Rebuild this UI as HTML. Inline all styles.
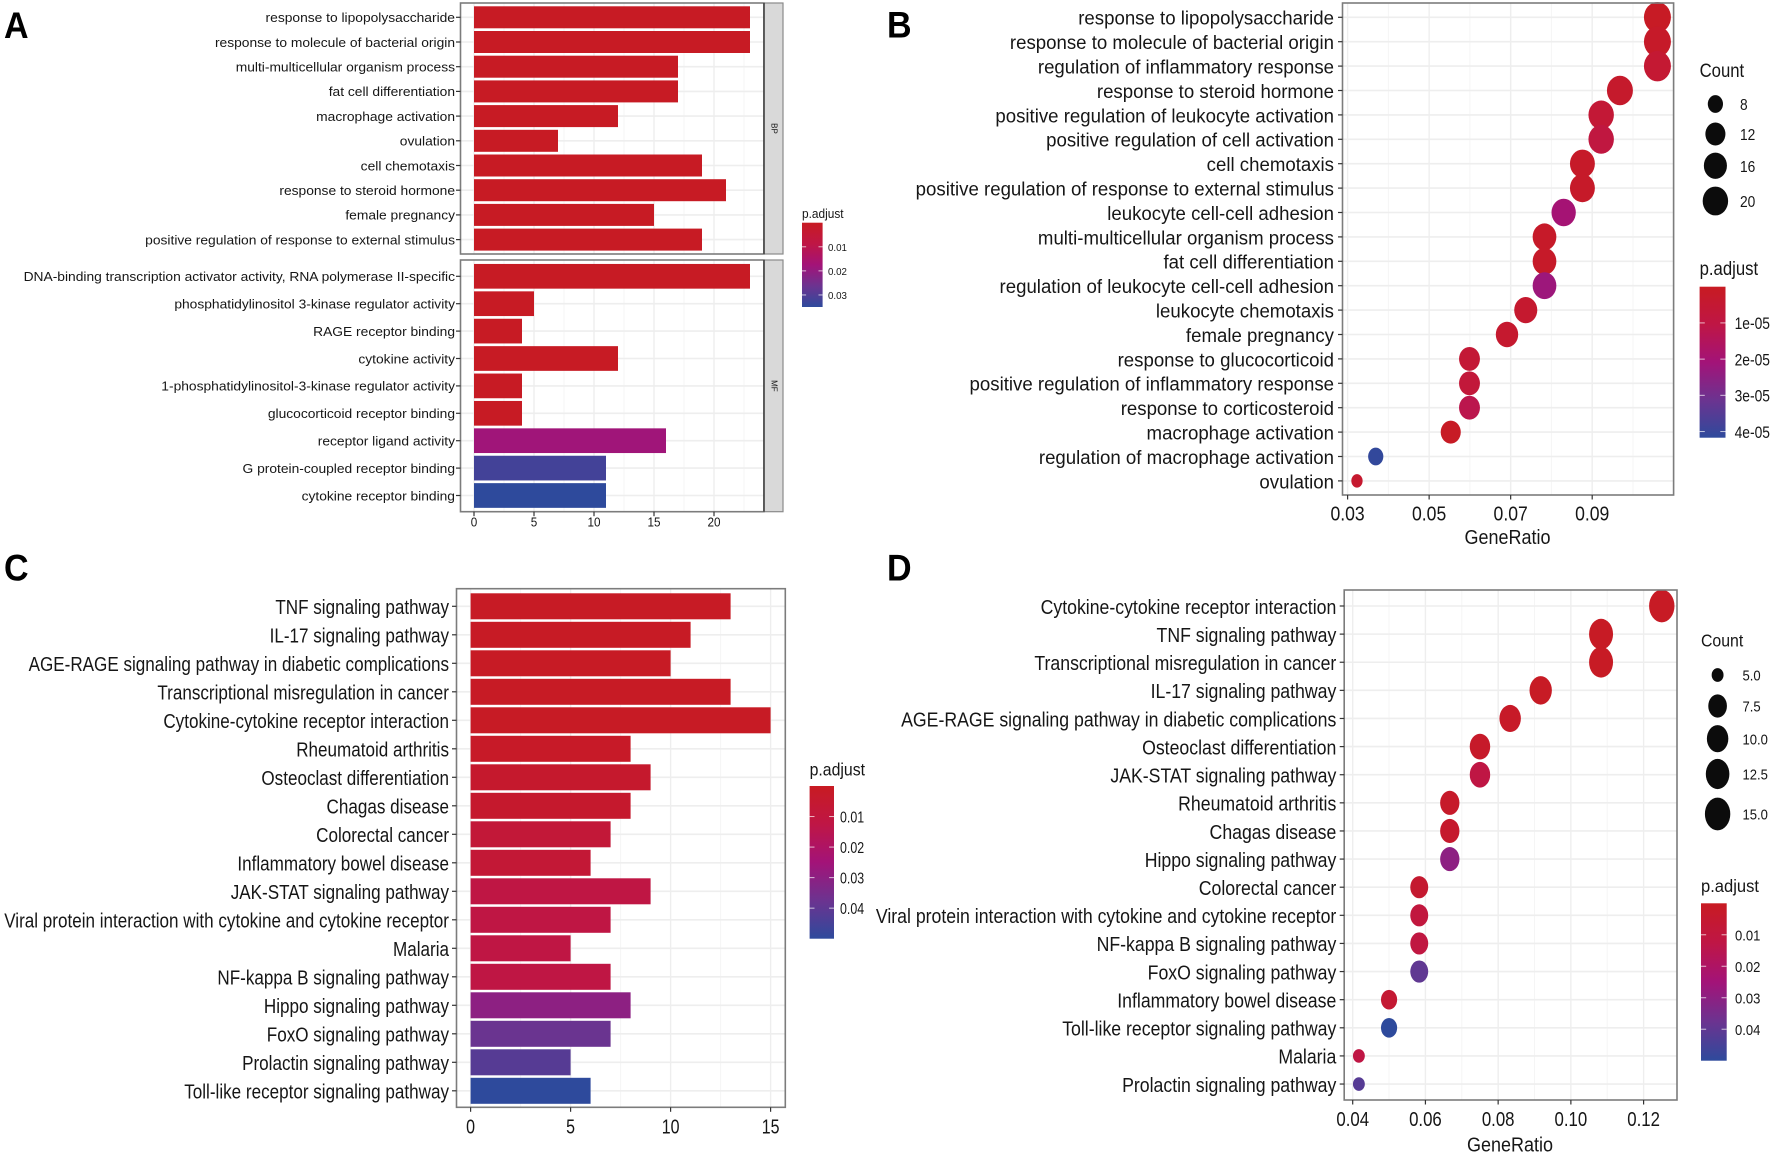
<!DOCTYPE html>
<html lang="en">
<head>
<meta charset="utf-8">
<title>GO and KEGG enrichment charts</title>
<style>
html,body{margin:0;padding:0;background:#fff;}
svg{display:block;position:absolute;left:0;top:0;filter:blur(0.35px);}
text{font-family:"Liberation Sans",Arial,sans-serif;fill:#161616;}
</style>
</head>
<body>
<svg id="figure" xmlns="http://www.w3.org/2000/svg" width="1772" height="1154" viewBox="0 0 1772 1154">
<rect width="1772" height="1154" fill="#ffffff"/>
<defs id="defs"></defs>
</svg>
<script>
// ---------- Panel A data ----------
const aBpTerms = ["response to lipopolysaccharide","response to molecule of bacterial origin","multi-multicellular organism process","fat cell differentiation","macrophage activation","ovulation","cell chemotaxis","response to steroid hormone","female pregnancy","positive regulation of response to external stimulus"];
const aBpCounts = [23,23,17,17,12,7,19,21,15,19];
const aBpPadj = [0.0005,0.0005,0.0005,0.0005,0.0005,0.0005,0.0005,0.0005,0.0005,0.0005];
const aMfTerms = ["DNA-binding transcription activator activity, RNA polymerase II-specific","phosphatidylinositol 3-kinase regulator activity","RAGE receptor binding","cytokine activity","1-phosphatidylinositol-3-kinase regulator activity","glucocorticoid receptor binding","receptor ligand activity","G protein-coupled receptor binding","cytokine receptor binding"];
const aMfCounts = [23,5,4,12,4,4,16,11,11];
const aMfPadj = [0.0005,0.0005,0.0005,0.0005,0.0005,0.0005,0.018,0.032,0.035];
const aTicks = ["0","5","10","15","20"];
const aLegendTicks = ["0.01","0.02","0.03"];

// ---------- Panel B data ----------
const bTerms = ["response to lipopolysaccharide","response to molecule of bacterial origin","regulation of inflammatory response","response to steroid hormone","positive regulation of leukocyte activation","positive regulation of cell activation","cell chemotaxis","positive regulation of response to external stimulus","leukocyte cell-cell adhesion","multi-multicellular organism process","fat cell differentiation","regulation of leukocyte cell-cell adhesion","leukocyte chemotaxis","female pregnancy","response to glucocorticoid","positive regulation of inflammatory response","response to corticosteroid","macrophage activation","regulation of macrophage activation","ovulation"];
const bRatios = [0.106,0.106,0.106,0.0968,0.0922,0.0922,0.0876,0.0876,0.083,0.0783,0.0783,0.0783,0.0737,0.0691,0.0599,0.0599,0.0599,0.0553,0.0369,0.0323];
const bCounts = [23,23,23,21,20,20,19,19,18,17,17,17,16,15,13,13,13,12,8,7];
const bPadj = [1e-6,2e-6,5e-6,3e-6,6e-6,9e-6,2e-6,2e-6,2e-5,2e-6,2e-6,2.2e-5,4e-6,4e-6,6e-6,7e-6,1.2e-5,1e-6,4.1e-5,4e-6];
const bTicks = ["0.03","0.05","0.07","0.09"];
const bSizeBreaks = [8,12,16,20];
const bSizeLabels = ["8","12","16","20"];
const bLegendTicks = ["1e-05","2e-05","3e-05","4e-05"];

// ---------- Panel C data ----------
const cTerms = ["TNF signaling pathway","IL-17 signaling pathway","AGE-RAGE signaling pathway in diabetic complications","Transcriptional misregulation in cancer","Cytokine-cytokine receptor interaction","Rheumatoid arthritis","Osteoclast differentiation","Chagas disease","Colorectal cancer","Inflammatory bowel disease","JAK-STAT signaling pathway","Viral protein interaction with cytokine and cytokine receptor","Malaria","NF-kappa B signaling pathway","Hippo signaling pathway","FoxO signaling pathway","Prolactin signaling pathway","Toll-like receptor signaling pathway"];
const cCounts = [13,11,10,13,15,8,9,8,7,6,9,7,5,7,8,7,5,6];
const cPadj = [0.001,0.001,0.001,0.001,0.001,0.002,0.004,0.004,0.008,0.007,0.012,0.012,0.012,0.012,0.03,0.038,0.042,0.05];
const cTicks = ["0","5","10","15"];
const cLegendTicks = ["0.01","0.02","0.03","0.04"];

// ---------- Panel D data ----------
const dTerms = ["Cytokine-cytokine receptor interaction","TNF signaling pathway","Transcriptional misregulation in cancer","IL-17 signaling pathway","AGE-RAGE signaling pathway in diabetic complications","Osteoclast differentiation","JAK-STAT signaling pathway","Rheumatoid arthritis","Chagas disease","Hippo signaling pathway","Colorectal cancer","Viral protein interaction with cytokine and cytokine receptor","NF-kappa B signaling pathway","FoxO signaling pathway","Inflammatory bowel disease","Toll-like receptor signaling pathway","Malaria","Prolactin signaling pathway"];
const dRatios = [0.125,0.1083,0.1083,0.0917,0.0833,0.075,0.075,0.0667,0.0667,0.0667,0.0583,0.0583,0.0583,0.0583,0.05,0.05,0.0417,0.0417];
const dCounts = [15,13,13,11,10,9,9,8,8,8,7,7,7,7,6,6,5,5];
const dPadj = [0.001,0.001,0.001,0.001,0.002,0.003,0.012,0.003,0.004,0.03,0.005,0.01,0.011,0.04,0.006,0.05,0.012,0.042];
const dTicks = ["0.04","0.06","0.08","0.10","0.12"];
const dSizeBreaks = [5,7.5,10,12.5,15];
const dSizeLabels = ["5.0","7.5","10.0","12.5","15.0"];
const dLegendTicks = ["0.01","0.02","0.03","0.04"];

// ---------- Drawing helpers ----------
const svg = document.getElementById('figure');
const defs = document.getElementById('defs');
const SVGNS = 'http://www.w3.org/2000/svg';
const colorStops = [[200,27,34],[191,22,69],[163,19,120],[108,51,144],[46,74,156]];

function mk(tag, attrs, parent) {
  const el = document.createElementNS(SVGNS, tag);
  for (const k in attrs) el.setAttribute(k, attrs[k]);
  (parent || svg).appendChild(el);
  return el;
}
function tone(t) {
  const c = Math.max(0, Math.min(1, t)) * (colorStops.length - 1);
  const i = Math.min(Math.floor(c), colorStops.length - 2);
  const f = c - i;
  const rgb = colorStops[i].map((v, j) => Math.round(v + (colorStops[i + 1][j] - v) * f));
  return 'rgb(' + rgb.join(',') + ')';
}
function linear(d0, d1, r0, r1) {
  return v => r0 + (v - d0) * (r1 - r0) / (d1 - d0);
}
function fitScale(labels, fs, refWidth) {
  const probe = mk('text', {'font-size': fs, x: 0, y: -100});
  let widest = 0;
  labels.forEach(s => {
    probe.textContent = s;
    widest = Math.max(widest, probe.getComputedTextLength());
  });
  probe.remove();
  return refWidth / widest;
}
function label(str, x, y, fs, sx, anchor, parent) {
  const el = mk('text', {
    'font-size': fs,
    'text-anchor': anchor,
    transform: 'translate(' + x + ',' + (y + fs * 0.38) + ') scale(' + sx + ',1)'
  }, parent);
  el.textContent = str;
  return el;
}
function drawFrame(g, box, key) {
  const frame = mk('rect', {x: box.l, y: box.t, width: box.r - box.l, height: box.b - box.t, fill: 'none', stroke: '#7c7c7c', 'stroke-width': 1.6}, g);
  
  
}
function drawGrid(g, box, xScale, tickVals, rowYs) {
  const step = tickVals[1] - tickVals[0];
  tickVals.map(v => v + step / 2).concat([tickVals[0] - step / 2]).forEach(v => {
    const x = xScale(v);
    if (x <= box.l || x >= box.r) return;
    const ln = mk('line', {x1: x, x2: x, y1: box.t, y2: box.b, stroke: '#f5f5f5', 'stroke-width': 1}, g);
    
    
  });
  tickVals.forEach(v => {
    const x = xScale(v);
    const ln = mk('line', {x1: x, x2: x, y1: box.t, y2: box.b, stroke: '#eeeeee', 'stroke-width': 1.4}, g);
    
    
  });
  rowYs.forEach(y => {
    const ln = mk('line', {x1: box.l, x2: box.r, y1: y, y2: y, stroke: '#eeeeee', 'stroke-width': 1.6}, g);
    
    
  });
}
function drawYLabels(g, box, terms, rowYs, style) {
  terms.forEach((term, i) => {
    const tick = mk('line', {x1: box.l - 4.5, x2: box.l, y1: rowYs[i], y2: rowYs[i], stroke: '#333', 'stroke-width': 1.2}, g);
    
    
    const t = label(term, style.right, rowYs[i], style.fs, style.sx, 'end', g);
    
    
  });
}
function drawXAxis(g, box, xScale, ticks, style) {
  ticks.forEach(s => {
    const x = xScale(Number(s));
    const tick = mk('line', {x1: x, x2: x, y1: box.b, y2: box.b + 4.5, stroke: '#333', 'stroke-width': 1.2}, g);
    
    
    const t = label(s, x, style.y, style.fs, style.sx, 'middle', g);
    
    
  });
}
function drawAxisTitle(g, str, x, y) {
  const t = label(str, x, y, 20, 0.9, 'middle', g);
  
  
}
function drawColorbar(g, o) {
  const id = 'grad-' + o.key;
  const grad = mk('linearGradient', {id: id, x1: 0, x2: 0, y1: 0, y2: 1}, defs);
  [0, 0.25, 0.5, 0.75, 1].forEach(t => {
    mk('stop', {offset: t, 'stop-color': tone(t)}, grad);
  });
  const title = label('p.adjust', o.l, o.titleY, o.titleFs, o.titleSx, 'start', g);
  
  
  const bar = mk('rect', {x: o.l, y: o.t, width: o.r - o.l, height: o.b - o.t, fill: 'url(#' + id + ')'}, g);
  
  
  const y = linear(0, o.max, o.t, o.b);
  o.ticks.forEach(s => {
    const py = y(Number(s));
    const w = (o.r - o.l) / 5;
    const left = mk('line', {x1: o.l, x2: o.l + w, y1: py, y2: py, stroke: '#fff', 'stroke-opacity': 0.7, 'stroke-width': 1}, g);
    
    
    const right = mk('line', {x1: o.r - w, x2: o.r, y1: py, y2: py, stroke: '#fff', 'stroke-opacity': 0.7, 'stroke-width': 1}, g);
    
    
    const t = label(s, o.labelX, py, o.labelFs, o.labelSx, 'start', g);
    
    
  });
}
function sizeScale(s) {
  return c => {
    const r = Math.sqrt(Math.max(0, (c - s.min) / (s.max - s.min)));
    return {rx: (s.w0 + s.wSpan * r) / 2, ry: (s.h0 + s.hSpan * r) / 2};
  };
}
function drawSizeLegend(g, o, size) {
  const title = label('Count', o.x, o.titleY, o.titleFs, o.titleSx, 'start', g);
  
  
  o.breaks.forEach((c, i) => {
    const r = size(c);
    const dot = mk('ellipse', {cx: o.dotX, cy: o.rowY[i], rx: r.rx, ry: r.ry, fill: '#0c0c0c'}, g);
    
    
    const t = label(o.labels[i], o.labelX, o.rowY[i], o.labelFs, o.labelSx, 'start', g);
    
    
  });
}
function rows(first, step, n) {
  const out = [];
  for (let i = 0; i < n; i++) out.push(first + i * step);
  return out;
}
function panelLetter(str, x, y) {
  const el = mk('text', {'font-size': 37, 'font-weight': 'bold', style: 'fill:#000', transform: 'translate(' + x + ',' + y + ') scale(0.92,1)'});
  el.textContent = str;
  
  
}
function drawBars(g, terms, counts, padj, rowYs, barH, xScale, color) {
  terms.forEach((term, i) => {
    const x0 = xScale(0);
    const bar = mk('rect', {x: x0, y: rowYs[i] - barH / 2, width: xScale(counts[i]) - x0, height: barH, fill: color(padj[i])}, g);
    
    
  });
}
function drawDots(g, ratios, counts, padj, rowYs, xScale, color, size) {
  ratios.forEach((v, i) => {
    const r = size(counts[i]);
    const dot = mk('ellipse', {cx: xScale(v), cy: rowYs[i], rx: r.rx, ry: r.ry, fill: color(padj[i])}, g);
    
    
  });
}

// ---------- Panel A ----------
(function () {
  const g = mk('g', {});
  
  
  panelLetter('A', 4, 38);
  const x = linear(0, 20, 474, 714);
  const color = p => tone(p / 0.035);
  const fs = 12.5;
  const sx = fitScale(aBpTerms.concat(aMfTerms), fs, 432);
  const bpBox = {l: 460.5, r: 764, t: 3, b: 254};
  const mfBox = {l: 460.5, r: 764, t: 260, b: 511.7};
  const bpRows = rows(17.3, 24.7, aBpTerms.length);
  const mfRows = rows(276.3, 27.4, aMfTerms.length);
  const tickVals = aTicks.map(Number);
  drawGrid(g, bpBox, x, tickVals, bpRows);
  drawGrid(g, mfBox, x, tickVals, mfRows);
  drawBars(g, aBpTerms, aBpCounts, aBpPadj, bpRows, 22, x, color);
  drawBars(g, aMfTerms, aMfCounts, aMfPadj, mfRows, 24.7, x, color);
  drawFrame(g, bpBox, 'a-bp');
  drawFrame(g, mfBox, 'a-mf');
  [[bpBox, 'BP'], [mfBox, 'MF']].forEach(pair => {
    const b = pair[0];
    const strip = mk('rect', {x: b.r, y: b.t, width: 19, height: b.b - b.t, fill: '#d9d9d9', stroke: '#8a8a8a', 'stroke-width': 1.2}, g);
    
    
    const edge = mk('line', {x1: b.r, x2: b.r, y1: b.t, y2: b.b, stroke: '#444', 'stroke-width': 1.6}, g);
    
    
    const cy = (b.t + b.b) / 2;
    const t = mk('text', {'font-size': 8, 'text-anchor': 'middle', transform: 'translate(771.5,' + cy + ') rotate(90)'}, g);
    t.textContent = pair[1];
    
    
  });
  drawYLabels(g, bpBox, aBpTerms, bpRows, {right: 455, fs: fs, sx: sx});
  drawYLabels(g, mfBox, aMfTerms, mfRows, {right: 455, fs: fs, sx: sx});
  drawXAxis(g, mfBox, x, aTicks, {y: 521.7, fs: 13, sx: 0.9});
  drawColorbar(g, {key: 'a', l: 802, r: 822.6, t: 222.7, b: 307, max: 0.035, ticks: aLegendTicks, titleY: 213, titleFs: 12.5, titleSx: 0.95, labelX: 828, labelFs: 10.5, labelSx: 0.93});
})();

// ---------- Panel B ----------
(function () {
  const g = mk('g', {});
  
  
  panelLetter('B', 887, 37.5);
  const box = {l: 1342.5, r: 1673.6, t: 3, b: 495};
  const x = linear(0.03, 0.09, 1347.6, 1592.2);
  const color = p => tone(p / 4.17e-5);
  const size = sizeScale({min: 7, max: 23, w0: 11.3, wSpan: 15.7, h0: 13.5, hSpan: 17});
  const rowYs = rows(17.3, 24.4, bTerms.length);
  const tickVals = bTicks.map(Number);
  drawGrid(g, box, x, tickVals, rowYs);
  drawDots(g, bRatios, bCounts, bPadj, rowYs, x, color, size);
  drawFrame(g, box, 'b');
  const fs = 19.5;
  drawYLabels(g, box, bTerms, rowYs, {right: 1334, fs: fs, sx: fitScale(bTerms, fs, 418.6)});
  drawXAxis(g, box, x, bTicks, {y: 512.7, fs: 20, sx: 0.88});
  drawAxisTitle(g, 'GeneRatio', 1507.5, 536.5);
  drawSizeLegend(g, {x: 1699.6, titleY: 70, titleFs: 19, titleSx: 0.88, dotX: 1715.4, rowY: [104, 134, 165.7, 201], breaks: bSizeBreaks, labels: bSizeLabels, labelX: 1740, labelFs: 16, labelSx: 0.86}, size);
  drawColorbar(g, {key: 'b', l: 1699.6, r: 1725.5, t: 286.7, b: 437.7, max: 4.17e-5, ticks: bLegendTicks, titleY: 268, titleFs: 19, titleSx: 0.88, labelX: 1734.6, labelFs: 16.5, labelSx: 0.84}, null);
})();

// ---------- Panel C ----------
(function () {
  const g = mk('g', {});
  
  
  panelLetter('C', 4, 580.7);
  const box = {l: 456.5, r: 785.3, t: 588.7, b: 1107.3};
  const x = linear(0, 15, 470.6, 770.6);
  const color = p => tone(p / 0.05);
  const rowYs = rows(606.3, 28.5, cTerms.length);
  drawGrid(g, box, x, cTicks.map(Number), rowYs);
  drawBars(g, cTerms, cCounts, cPadj, rowYs, 26, x, color);
  drawFrame(g, box, 'c');
  const fs = 20.5;
  drawYLabels(g, box, cTerms, rowYs, {right: 449, fs: fs, sx: fitScale(cTerms, fs, 445)});
  drawXAxis(g, box, x, cTicks, {y: 1125.7, fs: 20.5, sx: 0.78});
  drawColorbar(g, {key: 'c', l: 809.6, r: 834, t: 786, b: 938.7, max: 0.05, ticks: cLegendTicks, titleY: 768.5, titleFs: 18, titleSx: 0.88, labelX: 840, labelFs: 15.5, labelSx: 0.8});
})();

// ---------- Panel D ----------
(function () {
  const g = mk('g', {});
  
  
  panelLetter('D', 887, 580.7);
  const box = {l: 1344.2, r: 1677, t: 590, b: 1100};
  const x = linear(0.04, 0.12, 1352.7, 1643.6);
  const color = p => tone(p / 0.05);
  const size = sizeScale({min: 5, max: 15, w0: 11.9, wSpan: 13.5, h0: 13.7, hSpan: 19});
  const rowYs = rows(606, 28.12, dTerms.length);
  drawGrid(g, box, x, dTicks.map(Number), rowYs);
  drawDots(g, dRatios, dCounts, dPadj, rowYs, x, color, size);
  drawFrame(g, box, 'd');
  const fs = 20.5;
  drawYLabels(g, box, dTerms, rowYs, {right: 1336.3, fs: fs, sx: fitScale(dTerms, fs, 461)});
  drawXAxis(g, box, x, dTicks, {y: 1118.3, fs: 20, sx: 0.84});
  drawAxisTitle(g, 'GeneRatio', 1510, 1144);
  drawSizeLegend(g, {x: 1701, titleY: 639.5, titleFs: 18, titleSx: 0.88, dotX: 1717.6, rowY: [675, 706, 738.7, 774, 814], breaks: dSizeBreaks, labels: dSizeLabels, labelX: 1742.5, labelFs: 15, labelSx: 0.87}, size);
  drawColorbar(g, {key: 'd', l: 1701, r: 1726.7, t: 903.3, b: 1060.7, max: 0.05, ticks: dLegendTicks, titleY: 885, titleFs: 18, titleSx: 0.92, labelX: 1735, labelFs: 15, labelSx: 0.87});
})();
</script>
</body>
</html>
